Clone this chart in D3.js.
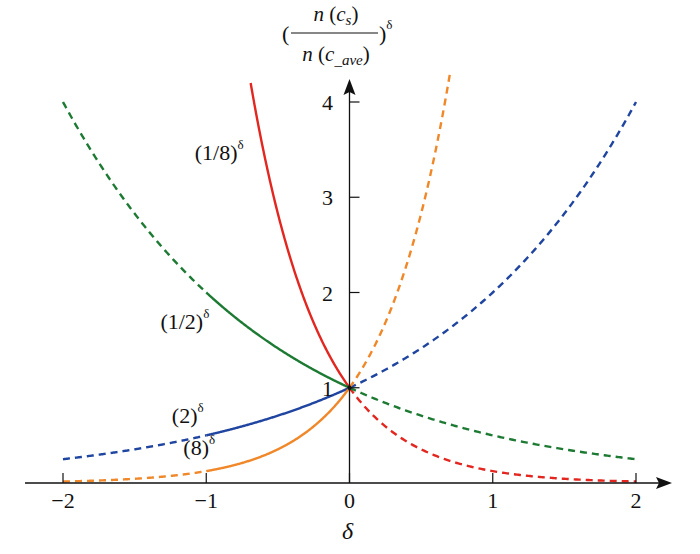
<!DOCTYPE html>
<html><head><meta charset="utf-8">
<script src="https://cdn.jsdelivr.net/npm/d3@7"></script>
<style>body{margin:0;background:#fff}svg{display:block}svg text{font-family:"Liberation Serif";fill:#111}</style>
</head><body><svg id="c" width="700" height="554"></svg>
<script>
const xTicks = [-2, -1, 0, 1, 2];
const xTickLabels = ["\u22122", "\u22121", "0", "1", "2"];
const yTicks = [1, 2, 3, 4];
const yTickLabels = ["1", "2", "3", "4"];
const bases = [1/8, 1/2, 2, 8];
const names = ["(1/8)", "(1/2)", "(2)", "(8)"];
const colors = ["#e3261f", "#1d7a33", "#1f45a0", "#f0882a"];
// segments per curve: [start, end, dashed]
const segments = [
  [[-0.69, 0, false], [0, 2, true]],
  [[-2, -1, true], [-1, 0, false], [0, 2, true]],
  [[-2, -1, true], [-1, 0, false], [0, 2, true]],
  [[-2, -1, true], [-1, 0, false], [0, 0.7, true]]
];
const labelPos = [[-1.08, 3.39], [-1.32, 1.62], [-1.24, 0.63], [-1.16, 0.29]];

const svg = d3.select("#c");
const x = d3.scaleLinear().domain([-2, 2]).range([63, 636]);
const y = d3.scaleLinear().domain([0, 4]).range([483, 102]);

bases.forEach((b, i) => {
  segments[i].forEach(([a, e, dashed]) => {
    const pts = d3.range(0, 201).map(k => { const d = a + (e - a) * k / 200; return [d, Math.pow(b, d)]; });
    svg.append("path").datum(pts)
      .attr("d", d3.line().x(d => x(d[0])).y(d => y(d[1])))
      .attr("fill", "none").attr("stroke", colors[i]).attr("stroke-width", 2.4)
      .attr("stroke-dasharray", dashed ? "7,5" : null);
  });
});

const ax = "#111";
svg.append("line").attr("x1", 25).attr("x2", 662).attr("y1", y(0)).attr("y2", y(0)).attr("stroke", ax).attr("stroke-width", 1.3);
svg.append("path").attr("d", `M672,${y(0)} L656,${y(0)-6} L659,${y(0)} L656,${y(0)+6} Z`).attr("fill", ax);
svg.append("line").attr("x1", x(0)).attr("x2", x(0)).attr("y1", y(0)).attr("y2", 88).attr("stroke", ax).attr("stroke-width", 1.3);
svg.append("path").attr("d", `M${x(0)},79 L${x(0)-6},95 L${x(0)},92 L${x(0)+6},95 Z`).attr("fill", ax);

xTicks.forEach((t, i) => {
  svg.append("line").attr("x1", x(t)).attr("x2", x(t)).attr("y1", y(0)).attr("y2", y(0) - 10).attr("stroke", ax).attr("stroke-width", 1.2);
  svg.append("text").attr("x", x(t)).attr("y", 508).attr("text-anchor", "middle").attr("font-size", 22).text(xTickLabels[i]);
});
yTicks.forEach((t, i) => {
  svg.append("line").attr("x1", x(0)).attr("x2", x(0) + 10).attr("y1", y(t)).attr("y2", y(t)).attr("stroke", ax).attr("stroke-width", 1.2);
  svg.append("text").attr("x", x(0) - 22).attr("y", y(t) + 8).attr("text-anchor", "middle").attr("font-size", 22).text(yTickLabels[i]);
});
svg.append("circle").attr("cx", x(0)).attr("cy", y(1)).attr("r", 2.2).attr("fill", ax);

names.forEach((n, i) => {
  const t = svg.append("text").attr("x", x(labelPos[i][0])).attr("y", y(labelPos[i][1])).attr("font-size", 22);
  t.append("tspan").text(n);
  t.append("tspan").attr("font-size", 13).attr("dy", -11).text("\u03b4");
});

svg.append("text").attr("x", x(0) - 2).attr("y", 539).attr("text-anchor", "middle").attr("font-size", 24).attr("font-style", "italic").text("\u03b4");

const g = svg.append("g");
g.append("text").attr("x", 282).attr("y", 41).attr("font-size", 22).text("(");
const n1 = g.append("text").attr("x", 336).attr("y", 21).attr("text-anchor", "middle").attr("font-size", 21);
n1.append("tspan").attr("font-style", "italic").text("n");
n1.append("tspan").text(" (");
n1.append("tspan").attr("font-style", "italic").text("c");
n1.append("tspan").attr("font-style", "italic").attr("font-size", 15).attr("dy", 4).text("s");
n1.append("tspan").attr("dy", -4).text(")");
g.append("line").attr("x1", 291).attr("x2", 378).attr("y1", 33).attr("y2", 33).attr("stroke", ax).attr("stroke-width", 1.1);
const n2 = g.append("text").attr("x", 336).attr("y", 61).attr("text-anchor", "middle").attr("font-size", 21);
n2.append("tspan").attr("font-style", "italic").text("n");
n2.append("tspan").text(" (");
n2.append("tspan").attr("font-style", "italic").text("c");
n2.append("tspan").attr("font-size", 15).attr("dy", 4).text("_");
n2.append("tspan").attr("font-style", "italic").attr("font-size", 15).text("ave");
n2.append("tspan").attr("dy", -4).text(")");
const cl = g.append("text").attr("x", 379).attr("y", 41).attr("font-size", 22);
cl.append("tspan").text(")");
cl.append("tspan").attr("font-size", 13).attr("dy", -12).text("\u03b4");
</script></body></html>
